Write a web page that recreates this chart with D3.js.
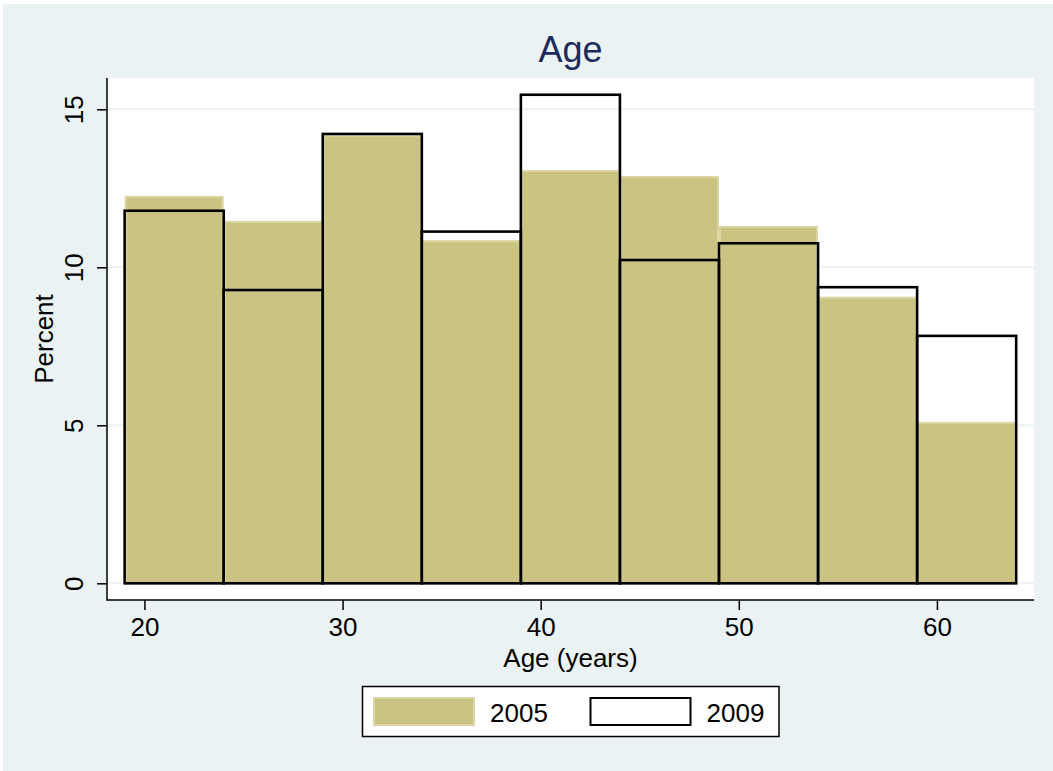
<!DOCTYPE html>
<html>
<head>
<meta charset="utf-8">
<script src="https://cdn.jsdelivr.net/npm/d3@7"></script>
<style>
  html, body { margin: 0; padding: 0; background: #ffffff; }
  svg { display: block; }
  text { font-family: "Liberation Sans", Arial, Helvetica, sans-serif; }
</style>
</head>
<body>
<svg id="chart" width="1053" height="771"></svg>
<script>
// Age distribution histograms, 5-year bins starting at 19
const binStarts = [19, 24, 29, 34, 39, 44, 49, 54, 59];
const binWidth = 5;
const pct2005 = [12.26, 11.47, 14.20, 10.86, 13.08, 12.89, 11.31, 9.07, 5.11];
const pct2009 = [11.79, 9.28, 14.22, 11.13, 15.46, 10.23, 10.76, 9.37, 7.83];
const xTicks = [20, 30, 40, 50, 60];
const yTicks = [0, 5, 10, 15];
const seriesNames = ["2005", "2009"];

const bg = "#eaf2f3";
const khaki = "#cbc382";
const khakiEdge = "#dcd6a4";

const svg = d3.select("#chart");

// graph region
svg.append("rect").attr("x", 3).attr("y", 4).attr("width", 1050).attr("height", 767).attr("fill", bg);

// plot region
const plot = { left: 107, right: 1034, top: 78, bottom: 600 };
svg.append("rect")
  .attr("x", plot.left).attr("y", plot.top)
  .attr("width", plot.right - plot.left).attr("height", plot.bottom - plot.top)
  .attr("fill", "#ffffff");

const x = d3.scaleLinear().domain([18.11, 64.9]).range([plot.left, plot.right]);
const y = d3.scaleLinear().domain([-0.528, 15.99]).range([plot.bottom, plot.top]);

// gridlines
svg.append("g").selectAll("line").data(yTicks).join("line")
  .attr("x1", plot.left + 1).attr("x2", plot.right)
  .attr("y1", d => y(d)).attr("y2", d => y(d))
  .attr("stroke", bg).attr("stroke-width", 2);

const bins05 = binStarts.map((b, i) => ({ x0: b, x1: b + binWidth, v: pct2005[i] }));
const bins09 = binStarts.map((b, i) => ({ x0: b, x1: b + binWidth, v: pct2009[i] }));

// 2005: filled bars
svg.append("g").selectAll("rect").data(bins05).join("rect")
  .attr("x", d => x(d.x0) + 1)
  .attr("y", d => y(d.v) + 1)
  .attr("width", d => x(d.x1) - x(d.x0) - 2)
  .attr("height", d => y(0) - y(d.v) - 1)
  .attr("fill", khaki)
  .attr("stroke", khakiEdge)
  .attr("stroke-width", 2);

// 2009: outlined bars
svg.append("g").selectAll("rect").data(bins09).join("rect")
  .attr("x", d => x(d.x0))
  .attr("y", d => y(d.v))
  .attr("width", d => x(d.x1) - x(d.x0))
  .attr("height", d => y(0) - y(d.v))
  .attr("fill", "none")
  .attr("stroke", "#000")
  .attr("stroke-width", 2.6);

// axes
const xAxis = svg.append("g")
  .attr("transform", `translate(0,${plot.bottom})`)
  .call(d3.axisBottom(x).tickValues(xTicks).tickSize(10).tickPadding(6).tickSizeOuter(0));
const yAxis = svg.append("g")
  .attr("transform", `translate(${plot.left},0)`)
  .call(d3.axisLeft(y).tickValues(yTicks).tickSize(10).tickSizeOuter(0));

[xAxis, yAxis].forEach(g => {
  g.select(".domain").remove();
  g.selectAll(".tick line").attr("stroke", "#000").attr("stroke-width", 1.5);
  g.selectAll(".tick text").attr("fill", "#000").attr("font-size", 26)
    .attr("font-family", "'Liberation Sans', Arial, Helvetica, sans-serif");
});
xAxis.selectAll(".tick text").attr("dy", null).attr("y", 36);
yAxis.selectAll(".tick text")
  .attr("x", null).attr("dy", null)
  .attr("text-anchor", "middle")
  .attr("transform", "translate(-24,0) rotate(-90)");

// axis lines
svg.append("line").attr("x1", plot.left).attr("x2", plot.right)
  .attr("y1", plot.bottom).attr("y2", plot.bottom)
  .attr("stroke", "#000").attr("stroke-width", 1.5);
svg.append("line").attr("x1", plot.left).attr("x2", plot.left)
  .attr("y1", plot.top).attr("y2", plot.bottom + 0.75)
  .attr("stroke", "#000").attr("stroke-width", 1.5);

// titles
svg.append("text").attr("x", (plot.left + plot.right) / 2).attr("y", 62)
  .attr("text-anchor", "middle").attr("font-size", 36).attr("fill", "#1c2b5a")
  .text("Age");
svg.append("text").attr("x", (plot.left + plot.right) / 2).attr("y", 667)
  .attr("text-anchor", "middle").attr("font-size", 26).attr("fill", "#000")
  .text("Age (years)");
svg.append("text")
  .attr("transform", `translate(53,${(plot.top + plot.bottom) / 2}) rotate(-90)`)
  .attr("text-anchor", "middle").attr("font-size", 26).attr("fill", "#000")
  .text("Percent");

// legend
const legend = svg.append("g");
legend.append("rect").attr("x", 362.5).attr("y", 686.5).attr("width", 416.5).attr("height", 50)
  .attr("fill", "#fff").attr("stroke", "#000").attr("stroke-width", 1.5);
const keys = [
  { x: 374, label: seriesNames[0], fill: khaki, stroke: khakiEdge, sw: 2 },
  { x: 590.5, label: seriesNames[1], fill: "#fff", stroke: "#000", sw: 2 }
];
keys.forEach(k => {
  legend.append("rect").attr("x", k.x).attr("y", 698).attr("width", 100).attr("height", 27)
    .attr("fill", k.fill).attr("stroke", k.stroke).attr("stroke-width", k.sw);
  legend.append("text").attr("x", k.x + 116).attr("y", 721.5)
    .attr("font-size", 26).attr("fill", "#000").text(k.label);
});
</script>
</body>
</html>
